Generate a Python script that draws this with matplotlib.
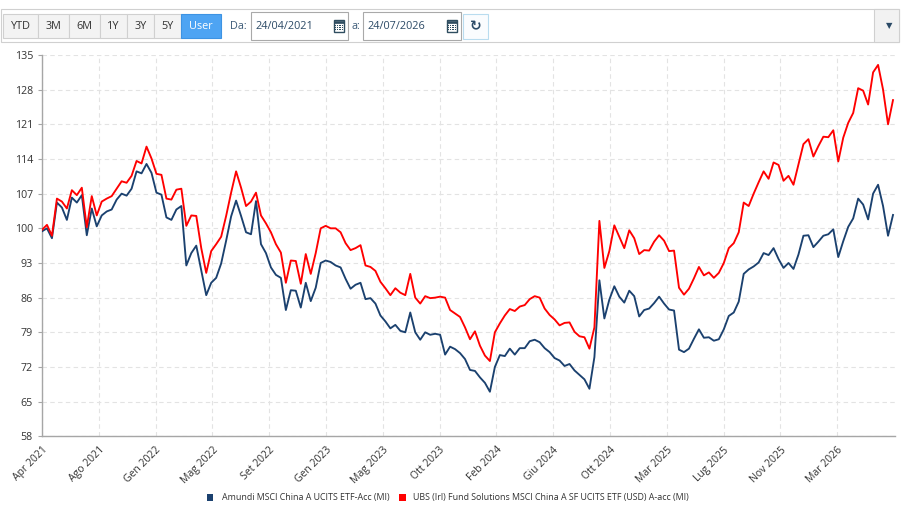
import numpy as np
import matplotlib
matplotlib.use('Agg')
import matplotlib.pyplot as plt
from matplotlib.patches import Rectangle

#%% Data (roughly weekly points)

# Amundi MSCI China A UCITS ETF-Acc (MI)
amundi = [99.4, 100.0, 98.0, 105.2, 104.2, 101.7, 106.2, 105.2, 106.7, 98.6,
          104.0, 100.4, 102.6, 103.4, 103.8, 105.8, 107.0, 106.6, 108.0, 111.5,
          111.1, 113.0, 111.2, 107.2, 106.8, 102.2, 101.7, 103.8, 104.5, 92.5,
          95.0, 96.5, 91.5, 86.5, 89.0, 90.0, 92.9, 97.5, 102.4, 105.6,
          102.5, 99.2, 98.8, 105.5, 96.8, 95.0, 92.1, 90.6, 90.0, 83.5,
          87.5, 87.4, 84.0, 89.0, 85.3, 88.0, 93.0, 93.5, 93.2, 92.5,
          92.1, 89.8, 87.8, 88.6, 89.0, 85.7, 85.9, 84.8, 82.4, 81.2,
          79.8, 80.5, 79.3, 79.0, 83.0, 79.0, 77.5, 79.0, 78.5, 78.7,
          78.5, 74.5, 76.1, 75.6, 74.8, 73.6, 71.4, 71.2, 69.9, 68.8,
          67.0, 72.0, 74.4, 74.2, 75.7, 74.5, 75.8, 75.8, 77.2, 77.5,
          77.0, 75.8, 75.0, 73.8, 73.3, 72.2, 72.6, 71.3, 70.4, 69.5,
          67.6, 74.0, 89.5, 81.8, 85.6, 88.3, 86.2, 85.0, 87.4, 86.3,
          82.2, 83.5, 83.8, 84.9, 86.2, 84.8, 83.6, 83.4, 75.5, 75.0,
          75.7, 77.7, 79.6, 77.9, 78.0, 77.3, 77.6, 79.6, 82.3, 83.0,
          85.2, 90.8, 91.7, 92.3, 93.1, 95.0, 94.6, 96.0, 93.8, 92.0,
          93.0, 91.8, 94.7, 98.5, 98.6, 96.2, 97.3, 98.5, 98.8, 99.8,
          94.2, 97.4, 100.3, 102.0, 106.0, 104.8, 101.8, 107.0, 108.8, 104.5,
          98.5, 102.7]

# UBS (Irl) Fund Solutions MSCI China A SF UCITS ETF (USD) A-acc (MI)
ubs = [99.7, 100.7, 98.5, 106.0, 105.4, 104.0, 107.7, 106.7, 108.2, 100.2,
       106.5, 102.6, 105.4, 106.0, 106.5, 108.0, 109.5, 109.2, 110.6, 113.6,
       113.1, 116.5, 114.1, 111.0, 110.8, 106.0, 105.8, 107.8, 108.0, 100.5,
       102.6, 102.5, 96.0, 91.0, 95.4, 96.8, 98.3, 102.5, 107.2, 111.5,
       108.2, 104.5, 105.4, 107.2, 102.6, 101.0, 99.2, 96.8, 95.1, 89.0,
       93.5, 93.4, 88.8, 94.8, 90.8, 95.0, 100.0, 100.5, 100.0, 100.0,
       99.2, 97.0, 95.6, 96.0, 96.6, 92.5, 92.2, 91.4, 89.2, 87.9,
       86.5, 87.9, 87.0, 86.5, 90.8, 86.0, 84.8, 86.3, 85.9, 86.0,
       86.2, 86.0, 83.5, 82.8, 82.1, 80.0, 77.6, 79.2, 76.3, 74.3,
       73.2, 79.0, 80.8, 82.4, 83.7, 83.3, 84.2, 84.5, 85.7, 86.3,
       86.0, 83.8, 82.5, 81.6, 80.4, 80.9, 81.0, 79.1, 78.2, 78.0,
       75.7, 80.0, 101.5, 92.0, 95.4, 100.6, 98.3, 96.0, 99.6, 98.0,
       94.8, 95.6, 95.5, 97.3, 98.6, 97.5, 95.4, 95.5, 88.0, 86.6,
       87.8, 89.9, 92.2, 90.5, 91.1, 90.0, 91.0, 93.0, 96.0, 97.0,
       99.2, 105.2, 104.5, 107.0, 109.3, 111.5, 110.0, 113.3, 112.8, 109.6,
       110.6, 108.8, 112.9, 117.0, 118.0, 114.5, 116.6, 118.5, 118.4, 119.8,
       113.5, 118.3, 121.3, 123.3, 128.3, 127.8, 125.0, 131.5, 133.0, 128.0,
       121.0, 125.9]

x_labels = ['Apr 2021', 'Ago 2021', 'Gen 2022', 'Mag 2022', 'Set 2022', 'Gen 2023',
            'Mag 2023', 'Ott 2023', 'Feb 2024', 'Giu 2024', 'Ott 2024', 'Mar 2025',
            'Lug 2025', 'Nov 2025', 'Mar 2026']
y_ticks = [58, 65, 72, 79, 86, 93, 100, 107, 114, 121, 128, 135]

names = ['Amundi MSCI China A UCITS ETF-Acc (MI)',
         'UBS (Irl) Fund Solutions MSCI China A SF UCITS ETF (USD) A-acc (MI)']
colors = ['#1b416f', '#ff0000']

#%% Figure

plt.rcParams['font.family'] = ['Open Sans', 'DejaVu Sans']
W, H = 921, 514
fig = plt.figure(figsize=(W / 100, H / 100), dpi=100)

# plot area in pixels: x 42..895, y 55..436
ax = fig.add_axes([42 / W, 1 - 436.3 / H, (895 - 42) / W, (436.3 - 55) / H])

x = np.arange(len(amundi))
ax.plot(x, amundi, color=colors[0], lw=1.35, zorder=3)
ax.plot(x, ubs, color=colors[1], lw=1.35, zorder=4)

ax.set_xlim(0, 171.4)
ax.set_ylim(58, 135)
ax.set_yticks(y_ticks)
tick_step = 56.8 / (851 / 171)
ax.set_xticks(np.arange(len(x_labels)) * tick_step)
ax.set_xticklabels(x_labels, rotation=45, ha='right', va='top', rotation_mode='anchor')

ax.grid(True, color='#e3e3e3', lw=0.8, linestyle=(0, (4, 3)))
ax.set_axisbelow(True)
for s in ['top', 'right']:
    ax.spines[s].set_visible(False)
for s in ['left', 'bottom']:
    ax.spines[s].set_color('#a6a6a6')
    ax.spines[s].set_linewidth(1.0)
ax.tick_params(axis='y', length=3, color='#a6a6a6', pad=3.5, labelsize=7.7, labelcolor='#333333')
ax.tick_params(axis='x', length=0, pad=6, labelsize=7.5, labelcolor='#333333')

#%% Toolbar on top


def rect(x0, y0, x1, y1, fc='white', ec='#cccccc', lw=0.8, z=1):
    fig.patches.append(Rectangle((x0 / W, 1 - y1 / H), (x1 - x0) / W, (y1 - y0) / H,
                                 transform=fig.transFigure, fc=fc, ec=ec, lw=lw, zorder=z))


def label(xp, yp, s, **kw):
    fig.text(xp / W, 1 - yp / H, s, va='center', **kw)


rect(0.5, 9, 899.3, 42.3, ec='#d0d0d0')

btn_names = ['YTD', '3M', '6M', '1Y', '3Y', '5Y', 'User']
btn_edges = [3.3, 38.3, 69.3, 100, 126.7, 154, 181, 220.7]
for i, b in enumerate(btn_names):
    x0, x1 = btn_edges[i], btn_edges[i + 1]
    if b == 'User':
        rect(x0, 14.3, x1, 38.3, fc='#4ea4f3', ec='#3d93e3', z=2)
        label((x0 + x1) / 2, 26.5, b, ha='center', color='white', fontsize=7.8)
    else:
        rect(x0, 14.3, x1, 38.3, fc='#f3f3f3', ec='#d0d0d0', z=2)
        label((x0 + x1) / 2, 26.5, b, ha='center', color='#333333', fontsize=7.8)

# separator
rect(225.8, 14.5, 226.3, 38, fc='#cccccc', ec='none')


def calendar(cx, cy):
    rect(cx - 5, cy - 5.5, cx + 5, cy + 5.5, fc='white', ec='#2f4d60', lw=1.0, z=3)
    rect(cx - 5, cy - 5.5, cx + 5, cy - 3, fc='#2f4d60', ec='#2f4d60', lw=0.5, z=3)
    for r in range(3):
        for c in range(4):
            rect(cx - 3.8 + c * 2.2, cy - 1.5 + r * 2.2, cx - 2.6 + c * 2.2, cy - 0.3 + r * 2.2,
                 fc='#2f4d60', ec='none', z=4)


date_boxes = [('Da:', 230, 250.7, 330, 347.7, '24/04/2021'),
              ('a:', 351.7, 363.3, 442.7, 460.7, '24/07/2026')]
for lab, lx, x0, xd, x1, d in date_boxes:
    label(lx, 26.5, lab, ha='left', color='#3d5b78', fontsize=7.8)
    rect(x0, 12.3, x1, 40, fc='white', ec='#a9a9a9', z=2)
    rect(xd, 12.3, xd + 0.4, 40, fc='#c8c8c8', ec='none', z=3)
    label(x0 + 4.5, 26.5, d, ha='left', color='#2c4a66', fontsize=7.8)
    calendar((xd + x1) / 2, 26)

# refresh button
rect(462.7, 14.3, 488.3, 39.3, fc='#fafcfe', ec='#b9dcef', z=2)
label(475.5, 26.5, '\u21bb', ha='center', color='#2b4a66', fontsize=10, family='DejaVu Sans',
      fontweight='bold')

# dropdown
rect(874.3, 9, 899.3, 42.3, fc='#f2f2f2', ec='#d0d0d0', z=2)
label(889, 25.5, '\u25bc', ha='center', color='#2b4a66', fontsize=6, family='DejaVu Sans')

#%% Legend at the bottom

leg_items = [(206.7, 221.7), (399.3, 412.7)]
for (sx, tx), name, c in zip(leg_items, names, colors):
    rect(sx, 494, sx + 6.7, 500.7, fc=c, ec='none', z=2)
    label(tx, 497.5, name, ha='left', color='#333333', fontsize=6.4)

fig.savefig('out.png', dpi=100)
